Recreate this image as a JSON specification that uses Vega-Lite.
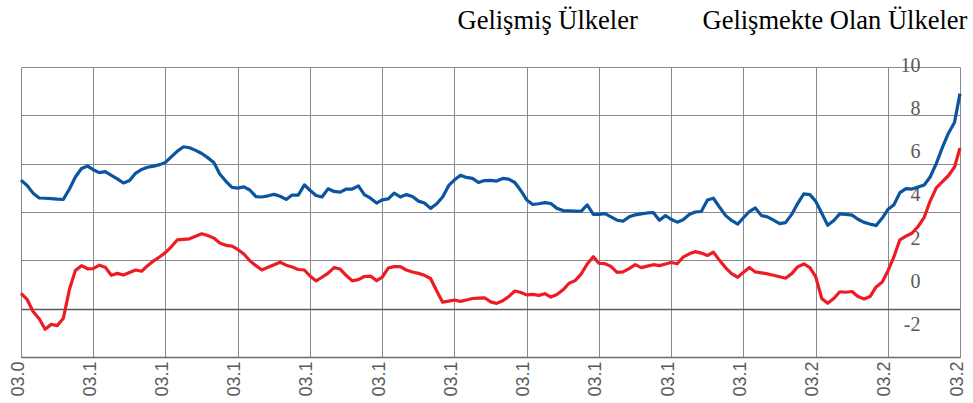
{
 "$schema": "https://vega.github.io/schema/vega-lite/v6.json",
 "width": 939,
 "height": 290,
 "autosize": {"type": "none"},
 "padding": {"left": 21, "top": 67, "right": 13, "bottom": 46},
 "background": "white",
 "config": {"view": {"stroke": null}},
 "data": {"values": [
{"date":"2009-03-01","Gelişmiş Ülkeler":5.32,"Gelişmekte Olan Ülkeler":0.63},
{"date":"2009-04-01","Gelişmiş Ülkeler":5.10,"Gelişmekte Olan Ülkeler":0.38},
{"date":"2009-05-01","Gelişmiş Ülkeler":4.78,"Gelişmekte Olan Ülkeler":-0.12},
{"date":"2009-06-01","Gelişmiş Ülkeler":4.58,"Gelişmekte Olan Ülkeler":-0.42},
{"date":"2009-07-01","Gelişmiş Ülkeler":4.57,"Gelişmekte Olan Ülkeler":-0.85},
{"date":"2009-08-01","Gelişmiş Ülkeler":4.55,"Gelişmekte Olan Ülkeler":-0.65},
{"date":"2009-09-01","Gelişmiş Ülkeler":4.53,"Gelişmekte Olan Ülkeler":-0.70},
{"date":"2009-10-01","Gelişmiş Ülkeler":4.52,"Gelişmekte Olan Ülkeler":-0.40},
{"date":"2009-11-01","Gelişmiş Ülkeler":4.95,"Gelişmekte Olan Ülkeler":0.80},
{"date":"2009-12-01","Gelişmiş Ülkeler":5.45,"Gelişmekte Olan Ülkeler":1.58},
{"date":"2010-01-01","Gelişmiş Ülkeler":5.80,"Gelişmekte Olan Ülkeler":1.78},
{"date":"2010-02-01","Gelişmiş Ülkeler":5.90,"Gelişmekte Olan Ülkeler":1.65},
{"date":"2010-03-01","Gelişmiş Ülkeler":5.75,"Gelişmekte Olan Ülkeler":1.66},
{"date":"2010-04-01","Gelişmiş Ülkeler":5.63,"Gelişmekte Olan Ülkeler":1.80},
{"date":"2010-05-01","Gelişmiş Ülkeler":5.67,"Gelişmekte Olan Ülkeler":1.71},
{"date":"2010-06-01","Gelişmiş Ülkeler":5.52,"Gelişmekte Olan Ülkeler":1.38},
{"date":"2010-07-01","Gelişmiş Ülkeler":5.37,"Gelişmekte Olan Ülkeler":1.46},
{"date":"2010-08-01","Gelişmiş Ülkeler":5.20,"Gelişmekte Olan Ülkeler":1.39},
{"date":"2010-09-01","Gelişmiş Ülkeler":5.30,"Gelişmekte Olan Ülkeler":1.50},
{"date":"2010-10-01","Gelişmiş Ülkeler":5.60,"Gelişmekte Olan Ülkeler":1.60},
{"date":"2010-11-01","Gelişmiş Ülkeler":5.76,"Gelişmekte Olan Ülkeler":1.55},
{"date":"2010-12-01","Gelişmiş Ülkeler":5.85,"Gelişmekte Olan Ülkeler":1.78},
{"date":"2011-01-01","Gelişmiş Ülkeler":5.90,"Gelişmekte Olan Ülkeler":1.98},
{"date":"2011-02-01","Gelişmiş Ülkeler":5.96,"Gelişmekte Olan Ülkeler":2.15},
{"date":"2011-03-01","Gelişmiş Ülkeler":6.05,"Gelişmekte Olan Ülkeler":2.32},
{"date":"2011-04-01","Gelişmiş Ülkeler":6.29,"Gelişmekte Olan Ülkeler":2.57},
{"date":"2011-05-01","Gelişmiş Ülkeler":6.52,"Gelişmekte Olan Ülkeler":2.85},
{"date":"2011-06-01","Gelişmiş Ülkeler":6.70,"Gelişmekte Olan Ülkeler":2.87},
{"date":"2011-07-01","Gelişmiş Ülkeler":6.66,"Gelişmekte Olan Ülkeler":2.89},
{"date":"2011-08-01","Gelişmiş Ülkeler":6.55,"Gelişmekte Olan Ülkeler":3.00},
{"date":"2011-09-01","Gelişmiş Ülkeler":6.42,"Gelişmekte Olan Ülkeler":3.10},
{"date":"2011-10-01","Gelişmiş Ülkeler":6.25,"Gelişmekte Olan Ülkeler":3.03},
{"date":"2011-11-01","Gelişmiş Ülkeler":6.05,"Gelişmekte Olan Ülkeler":2.92},
{"date":"2011-12-01","Gelişmiş Ülkeler":5.57,"Gelişmekte Olan Ülkeler":2.72},
{"date":"2012-01-01","Gelişmiş Ülkeler":5.27,"Gelişmekte Olan Ülkeler":2.62},
{"date":"2012-02-01","Gelişmiş Ülkeler":5.02,"Gelişmekte Olan Ülkeler":2.59},
{"date":"2012-03-01","Gelişmiş Ülkeler":4.99,"Gelişmekte Olan Ülkeler":2.45},
{"date":"2012-04-01","Gelişmiş Ülkeler":5.04,"Gelişmekte Olan Ülkeler":2.26},
{"date":"2012-05-01","Gelişmiş Ülkeler":4.91,"Gelişmekte Olan Ülkeler":1.98},
{"date":"2012-06-01","Gelişmiş Ülkeler":4.64,"Gelişmekte Olan Ülkeler":1.78},
{"date":"2012-07-01","Gelişmiş Ülkeler":4.62,"Gelişmekte Olan Ülkeler":1.60},
{"date":"2012-08-01","Gelişmiş Ülkeler":4.67,"Gelişmekte Olan Ülkeler":1.71},
{"date":"2012-09-01","Gelişmiş Ülkeler":4.73,"Gelişmekte Olan Ülkeler":1.82},
{"date":"2012-10-01","Gelişmiş Ülkeler":4.65,"Gelişmekte Olan Ülkeler":1.92},
{"date":"2012-11-01","Gelişmiş Ülkeler":4.52,"Gelişmekte Olan Ülkeler":1.80},
{"date":"2012-12-01","Gelişmiş Ülkeler":4.70,"Gelişmekte Olan Ülkeler":1.72},
{"date":"2013-01-01","Gelişmiş Ülkeler":4.70,"Gelişmekte Olan Ülkeler":1.62},
{"date":"2013-02-01","Gelişmiş Ülkeler":5.12,"Gelişmekte Olan Ülkeler":1.60},
{"date":"2013-03-01","Gelişmiş Ülkeler":4.90,"Gelişmekte Olan Ülkeler":1.35},
{"date":"2013-04-01","Gelişmiş Ülkeler":4.68,"Gelişmekte Olan Ülkeler":1.15},
{"date":"2013-05-01","Gelişmiş Ülkeler":4.62,"Gelişmekte Olan Ülkeler":1.30},
{"date":"2013-06-01","Gelişmiş Ülkeler":4.96,"Gelişmekte Olan Ülkeler":1.47},
{"date":"2013-07-01","Gelişmiş Ülkeler":4.85,"Gelişmekte Olan Ülkeler":1.70},
{"date":"2013-08-01","Gelişmiş Ülkeler":4.82,"Gelişmekte Olan Ülkeler":1.64},
{"date":"2013-09-01","Gelişmiş Ülkeler":4.95,"Gelişmekte Olan Ülkeler":1.37},
{"date":"2013-10-01","Gelişmiş Ülkeler":4.95,"Gelişmekte Olan Ülkeler":1.15},
{"date":"2013-11-01","Gelişmiş Ülkeler":5.08,"Gelişmekte Olan Ülkeler":1.20},
{"date":"2013-12-01","Gelişmiş Ülkeler":4.72,"Gelişmekte Olan Ülkeler":1.33},
{"date":"2014-01-01","Gelişmiş Ülkeler":4.57,"Gelişmekte Olan Ülkeler":1.35},
{"date":"2014-02-01","Gelişmiş Ülkeler":4.37,"Gelişmekte Olan Ülkeler":1.16},
{"date":"2014-03-01","Gelişmiş Ülkeler":4.50,"Gelişmekte Olan Ülkeler":1.30},
{"date":"2014-04-01","Gelişmiş Ülkeler":4.54,"Gelişmekte Olan Ülkeler":1.68},
{"date":"2014-05-01","Gelişmiş Ülkeler":4.78,"Gelişmekte Olan Ülkeler":1.74},
{"date":"2014-06-01","Gelişmiş Ülkeler":4.62,"Gelişmekte Olan Ülkeler":1.74},
{"date":"2014-07-01","Gelişmiş Ülkeler":4.72,"Gelişmekte Olan Ülkeler":1.60},
{"date":"2014-08-01","Gelişmiş Ülkeler":4.64,"Gelişmekte Olan Ülkeler":1.52},
{"date":"2014-09-01","Gelişmiş Ülkeler":4.45,"Gelişmekte Olan Ülkeler":1.46},
{"date":"2014-10-01","Gelişmiş Ülkeler":4.37,"Gelişmekte Olan Ülkeler":1.38},
{"date":"2014-11-01","Gelişmiş Ülkeler":4.15,"Gelişmekte Olan Ülkeler":1.25},
{"date":"2014-12-01","Gelişmiş Ülkeler":4.33,"Gelişmekte Olan Ülkeler":0.75},
{"date":"2015-01-01","Gelişmiş Ülkeler":4.62,"Gelişmekte Olan Ülkeler":0.27},
{"date":"2015-02-01","Gelişmiş Ülkeler":5.10,"Gelişmekte Olan Ülkeler":0.31},
{"date":"2015-03-01","Gelişmiş Ülkeler":5.32,"Gelişmekte Olan Ülkeler":0.36},
{"date":"2015-04-01","Gelişmiş Ülkeler":5.52,"Gelişmekte Olan Ülkeler":0.30},
{"date":"2015-05-01","Gelişmiş Ülkeler":5.43,"Gelişmekte Olan Ülkeler":0.36},
{"date":"2015-06-01","Gelişmiş Ülkeler":5.39,"Gelişmekte Olan Ülkeler":0.42},
{"date":"2015-07-01","Gelişmiş Ülkeler":5.22,"Gelişmekte Olan Ülkeler":0.44},
{"date":"2015-08-01","Gelişmiş Ülkeler":5.30,"Gelişmekte Olan Ülkeler":0.45},
{"date":"2015-09-01","Gelişmiş Ülkeler":5.31,"Gelişmekte Olan Ülkeler":0.28},
{"date":"2015-10-01","Gelişmiş Ülkeler":5.28,"Gelişmekte Olan Ülkeler":0.22},
{"date":"2015-11-01","Gelişmiş Ülkeler":5.39,"Gelişmekte Olan Ülkeler":0.33},
{"date":"2015-12-01","Gelişmiş Ülkeler":5.36,"Gelişmekte Olan Ülkeler":0.50},
{"date":"2016-01-01","Gelişmiş Ülkeler":5.22,"Gelişmekte Olan Ülkeler":0.73},
{"date":"2016-02-01","Gelişmiş Ülkeler":4.88,"Gelişmekte Olan Ülkeler":0.67},
{"date":"2016-03-01","Gelişmiş Ülkeler":4.50,"Gelişmekte Olan Ülkeler":0.57},
{"date":"2016-04-01","Gelişmiş Ülkeler":4.31,"Gelişmekte Olan Ülkeler":0.59},
{"date":"2016-05-01","Gelişmiş Ülkeler":4.34,"Gelişmekte Olan Ülkeler":0.55},
{"date":"2016-06-01","Gelişmiş Ülkeler":4.39,"Gelişmekte Olan Ülkeler":0.62},
{"date":"2016-07-01","Gelişmiş Ülkeler":4.35,"Gelişmekte Olan Ülkeler":0.48},
{"date":"2016-08-01","Gelişmiş Ülkeler":4.15,"Gelişmekte Olan Ülkeler":0.59},
{"date":"2016-09-01","Gelişmiş Ülkeler":4.06,"Gelişmekte Olan Ülkeler":0.78},
{"date":"2016-10-01","Gelişmiş Ülkeler":4.05,"Gelişmekte Olan Ülkeler":1.05},
{"date":"2016-11-01","Gelişmiş Ülkeler":4.04,"Gelişmekte Olan Ülkeler":1.16},
{"date":"2016-12-01","Gelişmiş Ülkeler":4.03,"Gelişmekte Olan Ülkeler":1.43},
{"date":"2017-01-01","Gelişmiş Ülkeler":4.29,"Gelişmekte Olan Ülkeler":1.85},
{"date":"2017-02-01","Gelişmiş Ülkeler":3.90,"Gelişmekte Olan Ülkeler":2.15},
{"date":"2017-03-01","Gelişmiş Ülkeler":3.90,"Gelişmekte Olan Ülkeler":1.88},
{"date":"2017-04-01","Gelişmiş Ülkeler":3.93,"Gelişmekte Olan Ülkeler":1.86},
{"date":"2017-05-01","Gelişmiş Ülkeler":3.80,"Gelişmekte Olan Ülkeler":1.75},
{"date":"2017-06-01","Gelişmiş Ülkeler":3.66,"Gelişmekte Olan Ülkeler":1.50},
{"date":"2017-07-01","Gelişmiş Ülkeler":3.62,"Gelişmekte Olan Ülkeler":1.52},
{"date":"2017-08-01","Gelişmiş Ülkeler":3.80,"Gelişmekte Olan Ülkeler":1.66},
{"date":"2017-09-01","Gelişmiş Ülkeler":3.88,"Gelişmekte Olan Ülkeler":1.82},
{"date":"2017-10-01","Gelişmiş Ülkeler":3.92,"Gelişmekte Olan Ülkeler":1.70},
{"date":"2017-11-01","Gelişmiş Ülkeler":3.96,"Gelişmekte Olan Ülkeler":1.76},
{"date":"2017-12-01","Gelişmiş Ülkeler":3.98,"Gelişmekte Olan Ülkeler":1.82},
{"date":"2018-01-01","Gelişmiş Ülkeler":3.66,"Gelişmekte Olan Ülkeler":1.78},
{"date":"2018-02-01","Gelişmiş Ülkeler":3.85,"Gelişmekte Olan Ülkeler":1.85},
{"date":"2018-03-01","Gelişmiş Ülkeler":3.70,"Gelişmekte Olan Ülkeler":1.91},
{"date":"2018-04-01","Gelişmiş Ülkeler":3.58,"Gelişmekte Olan Ülkeler":1.86},
{"date":"2018-05-01","Gelişmiş Ülkeler":3.68,"Gelişmekte Olan Ülkeler":2.13},
{"date":"2018-06-01","Gelişmiş Ülkeler":3.90,"Gelişmekte Olan Ülkeler":2.27},
{"date":"2018-07-01","Gelişmiş Ülkeler":4.00,"Gelişmekte Olan Ülkeler":2.36},
{"date":"2018-08-01","Gelişmiş Ülkeler":4.02,"Gelişmekte Olan Ülkeler":2.30},
{"date":"2018-09-01","Gelişmiş Ülkeler":4.50,"Gelişmekte Olan Ülkeler":2.20},
{"date":"2018-10-01","Gelişmiş Ülkeler":4.57,"Gelişmekte Olan Ülkeler":2.34},
{"date":"2018-11-01","Gelişmiş Ülkeler":4.20,"Gelişmekte Olan Ülkeler":2.00},
{"date":"2018-12-01","Gelişmiş Ülkeler":3.86,"Gelişmekte Olan Ülkeler":1.70},
{"date":"2019-01-01","Gelişmiş Ülkeler":3.65,"Gelişmekte Olan Ülkeler":1.45},
{"date":"2019-02-01","Gelişmiş Ülkeler":3.50,"Gelişmekte Olan Ülkeler":1.30},
{"date":"2019-03-01","Gelişmiş Ülkeler":3.75,"Gelişmekte Olan Ülkeler":1.50},
{"date":"2019-04-01","Gelişmiş Ülkeler":4.02,"Gelişmekte Olan Ülkeler":1.70},
{"date":"2019-05-01","Gelişmiş Ülkeler":4.17,"Gelişmekte Olan Ülkeler":1.52},
{"date":"2019-06-01","Gelişmiş Ülkeler":3.85,"Gelişmekte Olan Ülkeler":1.48},
{"date":"2019-07-01","Gelişmiş Ülkeler":3.80,"Gelişmekte Olan Ülkeler":1.44},
{"date":"2019-08-01","Gelişmiş Ülkeler":3.66,"Gelişmekte Olan Ülkeler":1.38},
{"date":"2019-09-01","Gelişmiş Ülkeler":3.52,"Gelişmekte Olan Ülkeler":1.32},
{"date":"2019-10-01","Gelişmiş Ülkeler":3.56,"Gelişmekte Olan Ülkeler":1.26},
{"date":"2019-11-01","Gelişmiş Ülkeler":3.90,"Gelişmekte Olan Ülkeler":1.45},
{"date":"2019-12-01","Gelişmiş Ülkeler":4.35,"Gelişmekte Olan Ülkeler":1.73},
{"date":"2020-01-01","Gelişmiş Ülkeler":4.75,"Gelişmekte Olan Ülkeler":1.85},
{"date":"2020-02-01","Gelişmiş Ülkeler":4.72,"Gelişmekte Olan Ülkeler":1.70},
{"date":"2020-03-01","Gelişmiş Ülkeler":4.45,"Gelişmekte Olan Ülkeler":1.33},
{"date":"2020-04-01","Gelişmiş Ülkeler":3.95,"Gelişmekte Olan Ülkeler":0.42},
{"date":"2020-05-01","Gelişmiş Ülkeler":3.45,"Gelişmekte Olan Ülkeler":0.22},
{"date":"2020-06-01","Gelişmiş Ülkeler":3.65,"Gelişmekte Olan Ülkeler":0.42},
{"date":"2020-07-01","Gelişmiş Ülkeler":3.92,"Gelişmekte Olan Ülkeler":0.70},
{"date":"2020-08-01","Gelişmiş Ülkeler":3.90,"Gelişmekte Olan Ülkeler":0.68},
{"date":"2020-09-01","Gelişmiş Ülkeler":3.87,"Gelişmekte Olan Ülkeler":0.71},
{"date":"2020-10-01","Gelişmiş Ülkeler":3.70,"Gelişmekte Olan Ülkeler":0.50},
{"date":"2020-11-01","Gelişmiş Ülkeler":3.57,"Gelişmekte Olan Ülkeler":0.40},
{"date":"2020-12-01","Gelişmiş Ülkeler":3.50,"Gelişmekte Olan Ülkeler":0.50},
{"date":"2021-01-01","Gelişmiş Ülkeler":3.44,"Gelişmekte Olan Ülkeler":0.90},
{"date":"2021-02-01","Gelişmiş Ülkeler":3.75,"Gelişmekte Olan Ülkeler":1.10},
{"date":"2021-03-01","Gelişmiş Ülkeler":4.10,"Gelişmekte Olan Ülkeler":1.55},
{"date":"2021-04-01","Gelişmiş Ülkeler":4.30,"Gelişmekte Olan Ülkeler":2.15},
{"date":"2021-05-01","Gelişmiş Ülkeler":4.80,"Gelişmekte Olan Ülkeler":2.85},
{"date":"2021-06-01","Gelişmiş Ülkeler":4.97,"Gelişmekte Olan Ülkeler":3.00},
{"date":"2021-07-01","Gelişmiş Ülkeler":4.95,"Gelişmekte Olan Ülkeler":3.12},
{"date":"2021-08-01","Gelişmiş Ülkeler":5.03,"Gelişmekte Olan Ülkeler":3.40},
{"date":"2021-09-01","Gelişmiş Ülkeler":5.12,"Gelişmekte Olan Ülkeler":3.78},
{"date":"2021-10-01","Gelişmiş Ülkeler":5.45,"Gelişmekte Olan Ülkeler":4.45},
{"date":"2021-11-01","Gelişmiş Ülkeler":6.00,"Gelişmekte Olan Ülkeler":5.00},
{"date":"2021-12-01","Gelişmiş Ülkeler":6.65,"Gelişmekte Olan Ülkeler":5.25},
{"date":"2022-01-01","Gelişmiş Ülkeler":7.25,"Gelişmekte Olan Ülkeler":5.50},
{"date":"2022-02-01","Gelişmiş Ülkeler":7.70,"Gelişmekte Olan Ülkeler":5.85},
{"date":"2022-03-01","Gelişmiş Ülkeler":8.90,"Gelişmekte Olan Ülkeler":6.65}
 ]},
 "transform": [{"fold": ["Gelişmiş Ülkeler", "Gelişmekte Olan Ülkeler"], "as": ["series", "value"]}],
 "encoding": {
  "x": {
   "field": "date", "type": "temporal",
   "scale": {"nice": false},
   "axis": {
    "title": null,
    "values": [
     {"year":2009,"month":3,"date":1,"utc":true},{"year":2010,"month":3,"date":1,"utc":true},
     {"year":2011,"month":3,"date":1,"utc":true},{"year":2012,"month":3,"date":1,"utc":true},
     {"year":2013,"month":3,"date":1,"utc":true},{"year":2014,"month":3,"date":1,"utc":true},
     {"year":2015,"month":3,"date":1,"utc":true},{"year":2016,"month":3,"date":1,"utc":true},
     {"year":2017,"month":3,"date":1,"utc":true},{"year":2018,"month":3,"date":1,"utc":true},
     {"year":2019,"month":3,"date":1,"utc":true},{"year":2020,"month":3,"date":1,"utc":true},
     {"year":2021,"month":3,"date":1,"utc":true},{"year":2022,"month":3,"date":1,"utc":true}
    ],
    "labelExpr": "'03.' + substring(utcFormat(datum.value, '%y'), 0, 1)",
    "labelAngle": -90,
    "labelFont": "Liberation Sans",
    "labelFontSize": 18,
    "labelColor": "#595959",
    "labelPadding": 4,
    "labelOffset": -3,
    "labelOverlap": false,
    "labelFlush": false,
    "ticks": false,
    "grid": true,
    "gridColor": "#8a8a8a",
    "gridWidth": 1,
    "domain": true,
    "domainColor": "#6a6a6a",
    "domainWidth": 1.5
   }
  }
 },
 "layer": [
  {
   "mark": {"type": "line", "strokeWidth": 3.2, "strokeJoin": "round"},
   "encoding": {
    "y": {
     "field": "value", "type": "quantitative",
     "scale": {"domain": [-2, 10], "nice": false, "zero": false},
     "axis": {
      "orient": "left", "title": null,
      "values": [-2, 0, 2, 4, 6, 8, 10],
      "labels": false, "ticks": false, "domain": false,
      "grid": true,
      "gridColor": {"condition": {"test": "datum.value === 0", "value": "#5a5a5a"}, "value": "#8a8a8a"},
      "gridWidth": {"condition": {"test": "datum.value === 0", "value": 1.6}, "value": 1}
     }
    },
    "color": {
     "field": "series", "type": "nominal",
     "scale": {"domain": ["Gelişmiş Ülkeler", "Gelişmekte Olan Ülkeler"], "range": ["#0a54a0", "#ed1c24"]},
     "legend": {
      "orient": "none", "legendX": 410, "legendY": -59,
      "direction": "horizontal", "title": null,
      "symbolType": "circle", "symbolSize": 0, "symbolStrokeWidth": 0, "symbolOpacity": 0,
      "labelOffset": 0, "labelFont": "Liberation Serif", "labelFontSize": 26.5,
      "labelColor": "#000000", "columnPadding": 38, "labelLimit": 500, "padding": 0
     }
    }
   }
  },
  {
   "mark": {"type": "point", "opacity": 0},
   "encoding": {
    "y": {
     "field": "value", "type": "quantitative",
     "scale": {"domain": [-3.385, 10], "nice": false, "zero": false},
     "axis": {
      "orient": "right", "title": null,
      "values": [-2, 0, 2, 4, 6, 8, 10],
      "labelExpr": "'' + datum.value",
      "grid": false, "ticks": false, "domain": false,
      "offset": -40, "labelAlign": "right", "labelPadding": 0, "labelOffset": -2,
      "labelFont": "Liberation Serif", "labelFontSize": 20, "labelColor": "#595959"
     }
    }
   }
  }
 ],
 "resolve": {"scale": {"y": "independent"}, "axis": {"y": "independent"}}
}
